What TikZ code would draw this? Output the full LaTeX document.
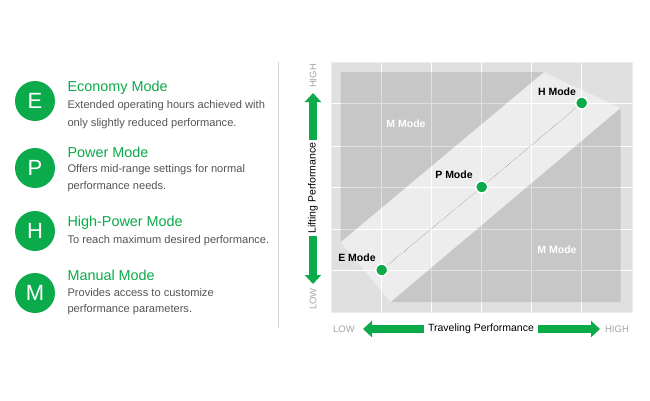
\documentclass[tikz,border=0pt]{standalone}
\usepackage{fontspec}
\setmainfont{Liberation Sans}
\usetikzlibrary{arrows.meta}
\definecolor{grn}{HTML}{0BAA4B}
\definecolor{txt}{HTML}{555555}
\begin{document}
\begin{tikzpicture}[x=1pt,y=-1pt,
  badge/.style={circle,fill=grn,minimum size=40pt,inner sep=0,text=white,font=\fontsize{22}{22}\selectfont},
  ttl/.style={anchor=west,text=grn,font=\fontsize{14.4}{14}\selectfont},
  desc/.style={anchor=west,text=txt,font=\fontsize{11.1}{11}\selectfont},
  dot/.style={circle,fill=grn,draw=white,line width=1.5pt,minimum size=12pt,inner sep=0},
  lbl/.style={font=\bfseries\fontsize{10.5}{10}\selectfont},
  axl/.style={text=gray!70,font=\fontsize{9.5}{9}\selectfont},
  arr/.style={grn,line width=8pt,{Triangle[width=16pt,length=9pt]}-{Triangle[width=16pt,length=9pt]}}]
\useasboundingbox (0,0) rectangle (650,400);
\fill[white] (0,0) rectangle (650,400);
% legend
\node[badge] (bE) at (35,101) {E};
\node[badge] (bP) at (35,168) {P};
\node[badge] (bH) at (35,231) {H};
\node[badge] (bM) at (35,293) {M};
\node[ttl] (tE) at (64,88) {Economy Mode};
\node[desc] (dE1) at (64,106) {Extended operating hours achieved with};
\node[desc] (dE2) at (64,124) {only slightly reduced performance.};
\node[ttl] (tP) at (64,152) {Power Mode};
\node[desc] (dP1) at (64,170) {Offers mid-range settings for normal};
\node[desc] (dP2) at (64,187) {performance needs.};
\node[ttl] (tH) at (64,223) {High-Power Mode};
\node[desc] (dH1) at (64,241) {To reach maximum desired performance.};
\node[ttl] (tM) at (64,275) {Manual Mode};
\node[desc] (dM1) at (64,293) {Provides access to customize};
\node[desc] (dM2) at (64,310) {performance parameters.};
\draw[gray!35,line width=1pt] (278,62) -- (278,328);
% chart
\fill[gray!24] (331,62) rectangle (632,312);
\fill[gray!14] (340.7,242) -- (544,72) -- (620.7,108) -- (390.7,302) -- cycle;
\foreach \x in {381.7,431.7,481.7,531.7,581.7} \draw[white,line width=1pt] (\x,62) -- (\x,312);
\foreach \y in {103,146,187,229,270} \draw[white,line width=1pt] (331,\y) -- (632,\y);
\fill[gray,opacity=0.25] (340.7,72) -- (544,72) -- (340.7,242) -- cycle;
\fill[gray,opacity=0.25] (620.7,108) -- (620.7,302) -- (390.7,302) -- cycle;
\draw[gray!15,line width=1pt] (331,62) rectangle (632,312);
\node[dot] (E) at (381.7,270) {};
\node[dot] (P) at (481.7,187) {};
\node[dot] (H) at (581.7,103) {};
\draw[densely dotted,gray!70!black] (E) -- (P) -- (H);
\node[lbl] (lE) at (357,258) {E Mode};
\node[lbl] (lP) at (454,175) {P Mode};
\node[lbl] (lH) at (557,92) {H Mode};
\node[lbl,text=white] (m1) at (406,124) {M Mode};
\node[lbl,text=white] (m2) at (557,250) {M Mode};
% axes
\coordinate (vt) at (313,93);
\coordinate (vb) at (313,284);
\draw[arr] (vb) -- (vt);
\node[fill=white,rotate=90,inner sep=2pt,font=\fontsize{10.5}{10}\selectfont] (vl) at (313,188) {Lifting Performance};
\node[axl,rotate=90] (vh) at (313,76) {HIGH};
\node[axl,rotate=90] (vlo) at (313,299) {LOW};
\coordinate (hL) at (363,329);
\coordinate (hR) at (600,329);
\draw[arr] (hL) -- (hR);
\node[fill=white,inner sep=4pt,font=\fontsize{10.5}{10}\selectfont] (hl) at (481,329) {Traveling Performance};
\node[axl] (hlo) at (344,329) {LOW};
\node[axl] (hhi) at (617,329) {HIGH};
\end{tikzpicture}
\end{document}
